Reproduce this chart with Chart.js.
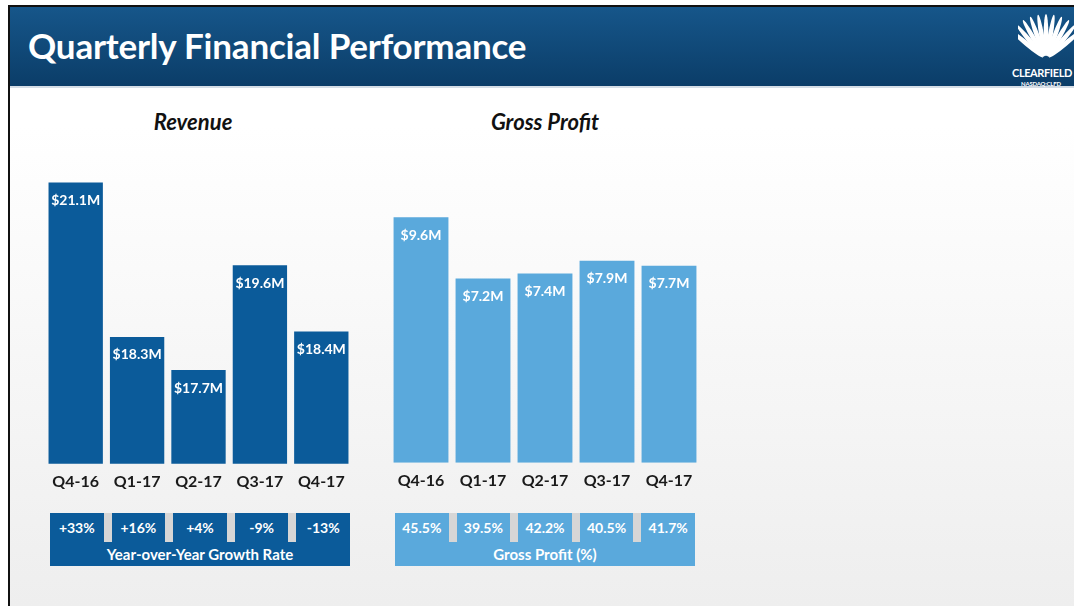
<!doctype html>
<html>
<head>
<title>Quarterly Financial Performance</title>
<script src="https://cdn.jsdelivr.net/npm/chart.js@4.4.1/dist/chart.umd.min.js"></script>
<style>
  html, body { margin: 0; padding: 0; }
  body {
    width: 1074px; height: 606px; overflow: hidden; position: relative;
    background: #fff; font-family: Lato, "Open Sans", sans-serif;
  }
  #frame {
    position: absolute; left: 8px; top: 5px; right: 0; bottom: 0;
    border-left: 2px solid #111; border-top: 2px solid #111;
    background: linear-gradient(#ffffff 20%, #eeeeee 100%);
  }
  #header {
    position: absolute; left: 10px; top: 7px; width: 1064px; height: 79px;
    background: linear-gradient(#16568a, #0b3d68);
    border-bottom: 2px solid #d5dde6;
  }
  #header h1 {
    position: absolute; left: 18px; top: 17px; margin: 0;
    color: #fff; font-weight: 700; font-size: 35px; letter-spacing: -0.2px;
  }
  #logo { position: absolute; left: 1000px; top: 3px; width: 74px; height: 80px; color: #fff; }
  #logo svg { position: absolute; left: 8px; top: 0; }
  #logo .name { position: absolute; left: 2px; top: 56px; font-size: 11px; font-weight: 700; letter-spacing: -0.4px; }
  #logo .tick { position: absolute; left: 11px; top: 70px; font-size: 6px; font-weight: 700; letter-spacing: -0.2px; }
  .ttl { position: absolute; top: 108px; font-size: 22px; font-weight: 700; font-style: italic; color: #111; transform: translateX(-50%); }
  .chartbox { position: absolute; }
  .tbl { position: absolute; top: 513px; width: 300px; height: 53px; }
  .tbl .row { display: flex; height: 29px; }
  .tbl .cell { flex: 1; color: #fff; font-weight: 700; font-size: 14px; text-align: center; line-height: 30px; }
  .tbl .gap { width: 8px; background: #d6d6d6; }
  .tbl .lbl { height: 24px; line-height: 24px; color: #fff; font-weight: 700; font-size: 15px; text-align: center; }
</style>
</head>
<body>
<div id="frame"></div>
<div id="header">
  <h1>Quarterly Financial Performance</h1>
  <div id="logo">
    <svg width="56" height="54" viewBox="0 0 56 54" id="shell"></svg>
    <div class="name">CLEARFIELD</div>
    <div class="tick">NASDAQ:CLFD</div>
  </div>
</div>

<div class="ttl" style="left:193px">Revenue</div>
<div class="ttl" style="left:545px">Gross Profit</div>

<div class="chartbox" style="left:40px; top:140px; width:320px; height:351px;"><canvas id="revChart"></canvas></div>
<div class="chartbox" style="left:385px; top:137px; width:320px; height:353px;"><canvas id="gpChart"></canvas></div>

<div class="tbl" id="revTable" style="left:50px"></div>
<div class="tbl" id="gpTable" style="left:395px"></div>

<script>
var quarters = ["Q4-16", "Q1-17", "Q2-17", "Q3-17", "Q4-17"];
var revenue = [21.1, 18.3, 17.7, 19.6, 18.4];      // $M
var grossProfit = [9.6, 7.2, 7.4, 7.9, 7.7];       // $M
var yoyGrowth = ["+33%", "+16%", "+4%", "-9%", "-13%"];
var grossMargin = ["45.5%", "39.5%", "42.2%", "40.5%", "41.7%"];

var darkBlue = "#0b5b9a";
var lightBlue = "#5aa9dc";

// logo shell fan
(function () {
  var svg = document.getElementById("shell");
  var s = "";
  for (var i = -5; i <= 5; i++) {
    var a = i * 10;
    s += '<ellipse cx="28" cy="25" rx="2.4" ry="21" fill="#fff" transform="rotate(' + a + ' 28 50)"/>';
  }
  svg.innerHTML = s;
})();

// tables under the charts
function buildTable(id, values, label, color) {
  var el = document.getElementById(id);
  el.style.background = color;
  var row = document.createElement("div");
  row.className = "row";
  values.forEach(function (v, i) {
    if (i > 0) {
      var g = document.createElement("div");
      g.className = "gap";
      row.appendChild(g);
    }
    var c = document.createElement("div");
    c.className = "cell";
    c.textContent = v;
    row.appendChild(c);
  });
  el.appendChild(row);
  var l = document.createElement("div");
  l.className = "lbl";
  l.textContent = label;
  el.appendChild(l);
}
buildTable("revTable", yoyGrowth, "Year-over-Year Growth Rate", darkBlue);
buildTable("gpTable", grossMargin, "Gross Profit (%)", lightBlue);

var valueLabels = {
  id: "valueLabels",
  afterDatasetsDraw: function (chart) {
    var ctx = chart.ctx;
    var meta = chart.getDatasetMeta(0);
    var data = chart.data.datasets[0].data;
    ctx.save();
    ctx.fillStyle = "#ffffff";
    ctx.font = "bold 14px Lato";
    ctx.textAlign = "center";
    ctx.textBaseline = "middle";
    meta.data.forEach(function (bar, i) {
      ctx.fillText("$" + data[i].toFixed(1) + "M", bar.x, bar.y + 18);
    });
    ctx.restore();
  }
};

function makeChart(id, values, color, ymin, ymax, pad) {
  return new Chart(document.getElementById(id), {
    type: "bar",
    data: {
      labels: quarters,
      datasets: [{
        data: values,
        backgroundColor: color,
        borderWidth: 0,
        categoryPercentage: 1,
        barPercentage: 0.885
      }]
    },
    options: {
      responsive: true,
      maintainAspectRatio: false,
      animation: false,
      layout: { padding: pad },
      plugins: { legend: { display: false }, tooltip: { enabled: false } },
      scales: {
        y: { display: false, min: ymin, max: ymax },
        x: {
          grid: { display: false },
          border: { display: false },
          ticks: { color: "#1a1a1a", padding: 0, font: { family: "Lato", size: 16, weight: "bold" } }
        }
      }
    },
    plugins: [valueLabels]
  });
}

makeChart("revChart", revenue, darkBlue, 16, 21.6, { left: 5, right: 8, top: 15, bottom: 0 });
makeChart("gpChart", grossProfit, lightBlue, 0, 10, { left: 5, right: 5, top: 70, bottom: 0 });
</script>
</body>
</html>
